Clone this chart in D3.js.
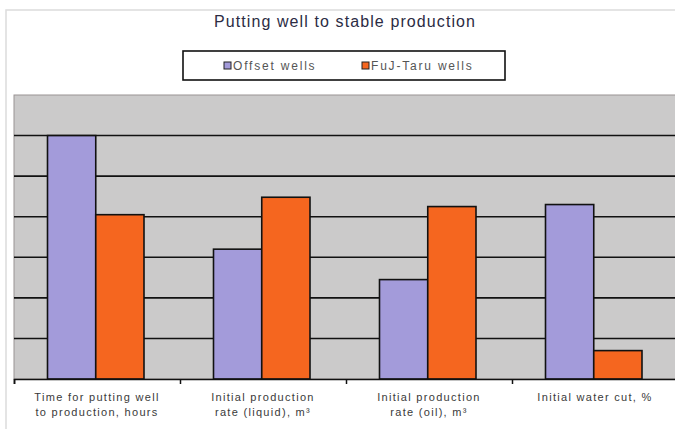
<!DOCTYPE html>
<html>
<head>
<meta charset="utf-8">
<script src="https://cdn.jsdelivr.net/npm/d3@7"></script>
<style>
  body { margin: 0; background: #fff; }
  svg { display: block; font-family: "Liberation Sans", Arial, sans-serif; }
</style>
</head>
<body>
<script>
var width = 675,
    height = 429;

// data
var categories = [
  ["Time for putting well", "to production, hours"],
  ["Initial production", "rate (liquid), m³"],
  ["Initial production", "rate (oil), m³"],
  ["Initial water cut, %"]
];
var seriesNames = ["Offset wells", "FuJ-Taru wells"];
var offsetWells = [6.0, 3.2, 2.45, 4.3];
var taruWells = [4.05, 4.48, 4.25, 0.7];
var yTicks = [1, 2, 3, 4, 5, 6];

var colors = ["#a39bda", "#f5661f"];

var svg = d3.select('body').append('svg')
    .attr('width', width)
    .attr('height', height);

/* faint frame of the scanned chart */
svg.append('rect')
    .attr('x', 6).attr('y', 10)
    .attr('width', width + 10).attr('height', height + 10)
    .attr('fill', '#fff')
    .attr('stroke', '#dcdcdc')
    .attr('stroke-width', 1.5);

var plot = { left: 14, right: 678, top: 95, bottom: 379 };

var x0 = d3.scaleBand()
    .domain(d3.range(categories.length))
    .range([plot.left, plot.right]);

var x1 = d3.scaleBand()
    .domain([0, 1])
    .range([33.5, 130]);

var y = d3.scaleLinear()
    .domain([0, 7])
    .range([plot.bottom, plot.top]);

// plot background
svg.append('rect')
    .attr('x', plot.left).attr('y', plot.top)
    .attr('width', plot.right - plot.left)
    .attr('height', plot.bottom - plot.top)
    .attr('fill', '#cbcaca')
    .attr('stroke', '#9a9494')
    .attr('stroke-width', 1);

// gridlines
svg.append('g').selectAll('line')
    .data(yTicks)
    .enter().append('line')
    .attr('x1', plot.left).attr('x2', plot.right)
    .attr('y1', function(d) { return y(d); })
    .attr('y2', function(d) { return y(d); })
    .attr('stroke', '#111')
    .attr('stroke-width', 1.6);

// bars
var rows = categories.map(function(c, i) {
  return [offsetWells[i], taruWells[i]];
});

var groups = svg.append('g').selectAll('g')
    .data(rows)
    .enter().append('g')
    .attr('transform', function(d, i) { return 'translate(' + x0(i) + ',0)'; });

groups.selectAll('rect')
    .data(function(d) { return d; })
    .enter().append('rect')
    .attr('x', function(d, j) { return x1(j); })
    .attr('y', function(d) { return y(d); })
    .attr('width', x1.bandwidth())
    .attr('height', function(d) { return y(0) - y(d); })
    .attr('fill', function(d, j) { return colors[j]; })
    .attr('stroke', '#111')
    .attr('stroke-width', 1.6);

// x axis
var xAxis = d3.axisBottom(d3.scaleLinear().domain([0, categories.length]).range([plot.left, plot.right]))
    .ticks(categories.length)
    .tickSize(5)
    .tickFormat('');

var ax = svg.append('g')
    .attr('transform', 'translate(0,' + plot.bottom + ')')
    .call(xAxis);
ax.select('.domain').attr('stroke', '#111').attr('stroke-width', 1.6);
ax.selectAll('.tick line').attr('stroke', '#111').attr('stroke-width', 1.5);

// category labels
var labels = svg.append('g').selectAll('text')
    .data(categories)
    .enter().append('text')
    .attr('x', function(d, i) { return x0(i) + x0.bandwidth() / 2; })
    .attr('y', 401)
    .attr('text-anchor', 'middle')
    .attr('font-size', 11)
    .attr('letter-spacing', 1.3)
    .attr('fill', '#3a3a3a');

labels.selectAll('tspan')
    .data(function(d) { return d; })
    .enter().append('tspan')
    .attr('x', function() { return this.parentNode.getAttribute('x'); })
    .attr('dy', function(d, i) { return i === 0 ? 0 : 14.5; })
    .text(function(d) { return d; });

// title
svg.append('text')
    .attr('x', 345).attr('y', 27)
    .attr('text-anchor', 'middle')
    .attr('font-size', 16)
    .attr('letter-spacing', 1.1)
    .attr('fill', '#2c2c44')
    .text('Putting well to stable production');

// legend
svg.append('rect')
    .attr('x', 183).attr('y', 51)
    .attr('width', 322).attr('height', 29)
    .attr('fill', '#fff')
    .attr('stroke', '#111')
    .attr('stroke-width', 1.6);

var legendX = [224, 362];
var leg = svg.append('g').selectAll('g')
    .data(seriesNames)
    .enter().append('g')
    .attr('transform', function(d, i) { return 'translate(' + legendX[i] + ',66)'; });

leg.append('rect')
    .attr('x', 0).attr('y', -4)
    .attr('width', 7).attr('height', 7)
    .attr('fill', function(d, i) { return colors[i]; })
    .attr('stroke', '#222')
    .attr('stroke-width', 1);

leg.append('text')
    .attr('x', 9).attr('y', 4)
    .attr('font-size', 12)
    .attr('letter-spacing', 1.8)
    .attr('fill', '#555')
    .text(function(d) { return d; });
</script>
</body>
</html>
